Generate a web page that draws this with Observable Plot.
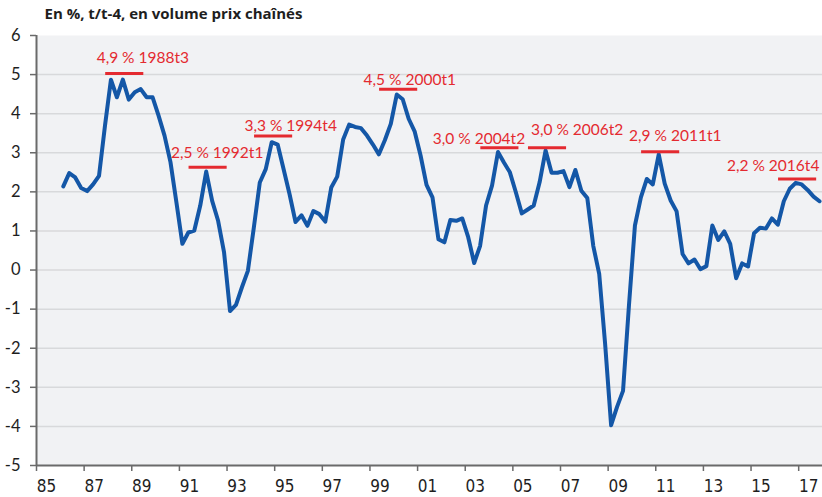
<!DOCTYPE html>
<html>
<head>
<meta charset="utf-8">
<script src="https://cdn.jsdelivr.net/npm/d3@7"></script>
<script src="https://cdn.jsdelivr.net/npm/@observablehq/plot@0.6"></script>
<style>
  html, body { margin: 0; padding: 0; background: #ffffff; }
  #chart svg { display: block; }
</style>
</head>
<body>
<div id="chart"></div>
<script>
// ---- Data ----
const title = "En %, t/t-4, en volume prix chaînés";
const firstQuarter = "1986t1";
// Quarterly y/y growth, 1986t1 .. 2017t4
const growth = [
  2.14, 2.48, 2.37, 2.10,   // 1986
  2.02, 2.19, 2.41, 3.69,   // 1987
  4.87, 4.42, 4.87, 4.36,   // 1988
  4.55, 4.63, 4.42, 4.42,   // 1989
  3.95, 3.44, 2.76, 1.73,   // 1990
  0.67, 0.96, 1.01, 1.65,   // 1991
  2.52, 1.77, 1.26, 0.45,   // 1992
  -1.05, -0.89, -0.44, -0.02, // 1993
  1.09, 2.24, 2.58, 3.27,   // 1994
  3.21, 2.58, 1.94, 1.23,   // 1995
  1.40, 1.13, 1.51, 1.43,   // 1996
  1.24, 2.11, 2.39, 3.34,   // 1997
  3.72, 3.66, 3.63, 3.44,   // 1998
  3.21, 2.96, 3.32, 3.74,   // 1999
  4.49, 4.37, 3.87, 3.55,   // 2000
  2.93, 2.18, 1.86, 0.79,   // 2001
  0.71, 1.28, 1.26, 1.32,   // 2002
  0.84, 0.18, 0.62, 1.65,   // 2003
  2.16, 3.02, 2.75, 2.50,   // 2004
  1.99, 1.45, 1.55, 1.65,   // 2005
  2.25, 3.06, 2.49, 2.49,   // 2006
  2.53, 2.12, 2.56, 2.03,   // 2007
  1.84, 0.62, -0.10, -1.90, // 2008
  -3.97, -3.50, -3.09, -0.90, // 2009
  1.14, 1.86, 2.33, 2.19,   // 2010
  2.96, 2.21, 1.78, 1.50,   // 2011
  0.41, 0.17, 0.27, 0.02,   // 2012
  0.10, 1.14, 0.77, 0.99,   // 2013
  0.67, -0.21, 0.17, 0.09,  // 2014
  0.94, 1.08, 1.06, 1.32,   // 2015
  1.16, 1.76, 2.08, 2.23,   // 2016
  2.19, 2.05, 1.88, 1.76    // 2017
];
// Peak annotations
const peakValues = [4.9, 2.5, 3.3, 4.5, 3.0, 3.0, 2.9, 2.2];
const peakQuarters = ["1988t3", "1992t1", "1994t4", "2000t1", "2004t2", "2006t2", "2011t1", "2016t4"];
// Axis ticks
const yTicks = [-5, -4, -3, -2, -1, 0, 1, 2, 3, 4, 5, 6];
const xTickYears = [1985, 1987, 1989, 1991, 1993, 1995, 1997, 1999, 2001, 2003, 2005, 2007, 2009, 2011, 2013, 2015, 2017];
const xTickLabels = ["85", "87", "89", "91", "93", "95", "97", "99", "01", "03", "05", "07", "09", "11", "13", "15", "17"];

// ---- Layout (not data) ----
const labelShift = [[20, -20], [11, -19.5], [19, -15.5], [13, -14.5], [-19, -14], [31.5, -23], [16.5, -20.5], [-22.5, -18.5]];

// ---- Build ----
const qToT = (q) => { const [y, k] = q.split("t").map(Number); return y + (k - 1) / 4; };
const t0 = qToT(firstQuarter);
const series = growth.map((v, i) => ({t: t0 + i / 4, v}));
const fmt = (v) => v.toFixed(1).replace(".", ",");
const peaks = peakValues.map((v, i) => ({t: qToT(peakQuarters[i]), v, label: `${fmt(v)} % ${peakQuarters[i]}`}));
const half = 0.125; // half a quarter: category boundary
const xDomain = [xTickYears[0] - half, xTickYears[xTickYears.length - 1] + 1 - half];
const tickPos = xTickYears.map(y => y - half);

const red = "#e42a30";
const axisColor = "#6a6a6a";
const font = "Lato, 'Open Sans', sans-serif";
const narrow = "'Liberation Sans Narrow', 'DejaVu Sans Condensed', 'Arial Narrow', sans-serif";

const chart = Plot.plot({
  width: 822,
  height: 497,
  marginLeft: 36,
  marginRight: 0,
  marginTop: 35,
  marginBottom: 32,
  style: {background: "#ffffff", fontFamily: font, overflow: "visible"},
  x: {domain: xDomain},
  y: {domain: [yTicks[0], yTicks[yTicks.length - 1]]},
  marks: [
    Plot.frame({fill: "#f1f2f4", stroke: null}),
    Plot.gridY(yTicks.slice(1, -1), {stroke: "#d8d9db", strokeOpacity: 1, strokeWidth: 1.5}),
    Plot.axisY(yTicks, {tickSize: 6, tickPadding: 10, fontSize: 16.5, stroke: axisColor, strokeWidth: 1.5, color: "#1e1e1e",
      tickFormat: (d) => String(d), label: null}),
    Plot.axisX(tickPos, {tickSize: 6, tickFormat: () => "", stroke: axisColor, strokeWidth: 1.5, label: null}),
    Plot.axisX(tickPos, {tickSize: 0, tickPadding: 14, dx: 10, fontSize: 17, fontFamily: narrow, color: "#1e1e1e",
      tickFormat: (d) => xTickLabels[tickPos.indexOf(d)], label: null}),
    Plot.ruleX([xDomain[0]], {stroke: axisColor, strokeWidth: 2}),
    Plot.ruleY([yTicks[0]], {stroke: axisColor, strokeWidth: 2}),
    Plot.line(series, {x: "t", y: "v", stroke: "#1457a7", strokeWidth: 4, strokeLinejoin: "round", strokeLinecap: "round"}),
    Plot.ruleY(peaks, {y: "v", x1: d => d.t - 0.72, x2: d => d.t + 0.88, dy: -5, stroke: red, strokeWidth: 3}),
    ...peaks.map((p, i) => Plot.text([p], {x: "t", y: "v", text: "label", dx: labelShift[i][0], dy: labelShift[i][1],
      fill: red, fontSize: 15.5, textAnchor: "middle", lineAnchor: "middle"})),
    Plot.text([title], {frameAnchor: "top-left", dx: 8, dy: -21, textAnchor: "start", lineAnchor: "middle",
      fontWeight: "bold", fontSize: 15, fontFamily: "'Open Sans', Lato, sans-serif", fill: "#1e1e1e"})
  ]
});
document.getElementById("chart").appendChild(chart);
</script>
</body>
</html>
